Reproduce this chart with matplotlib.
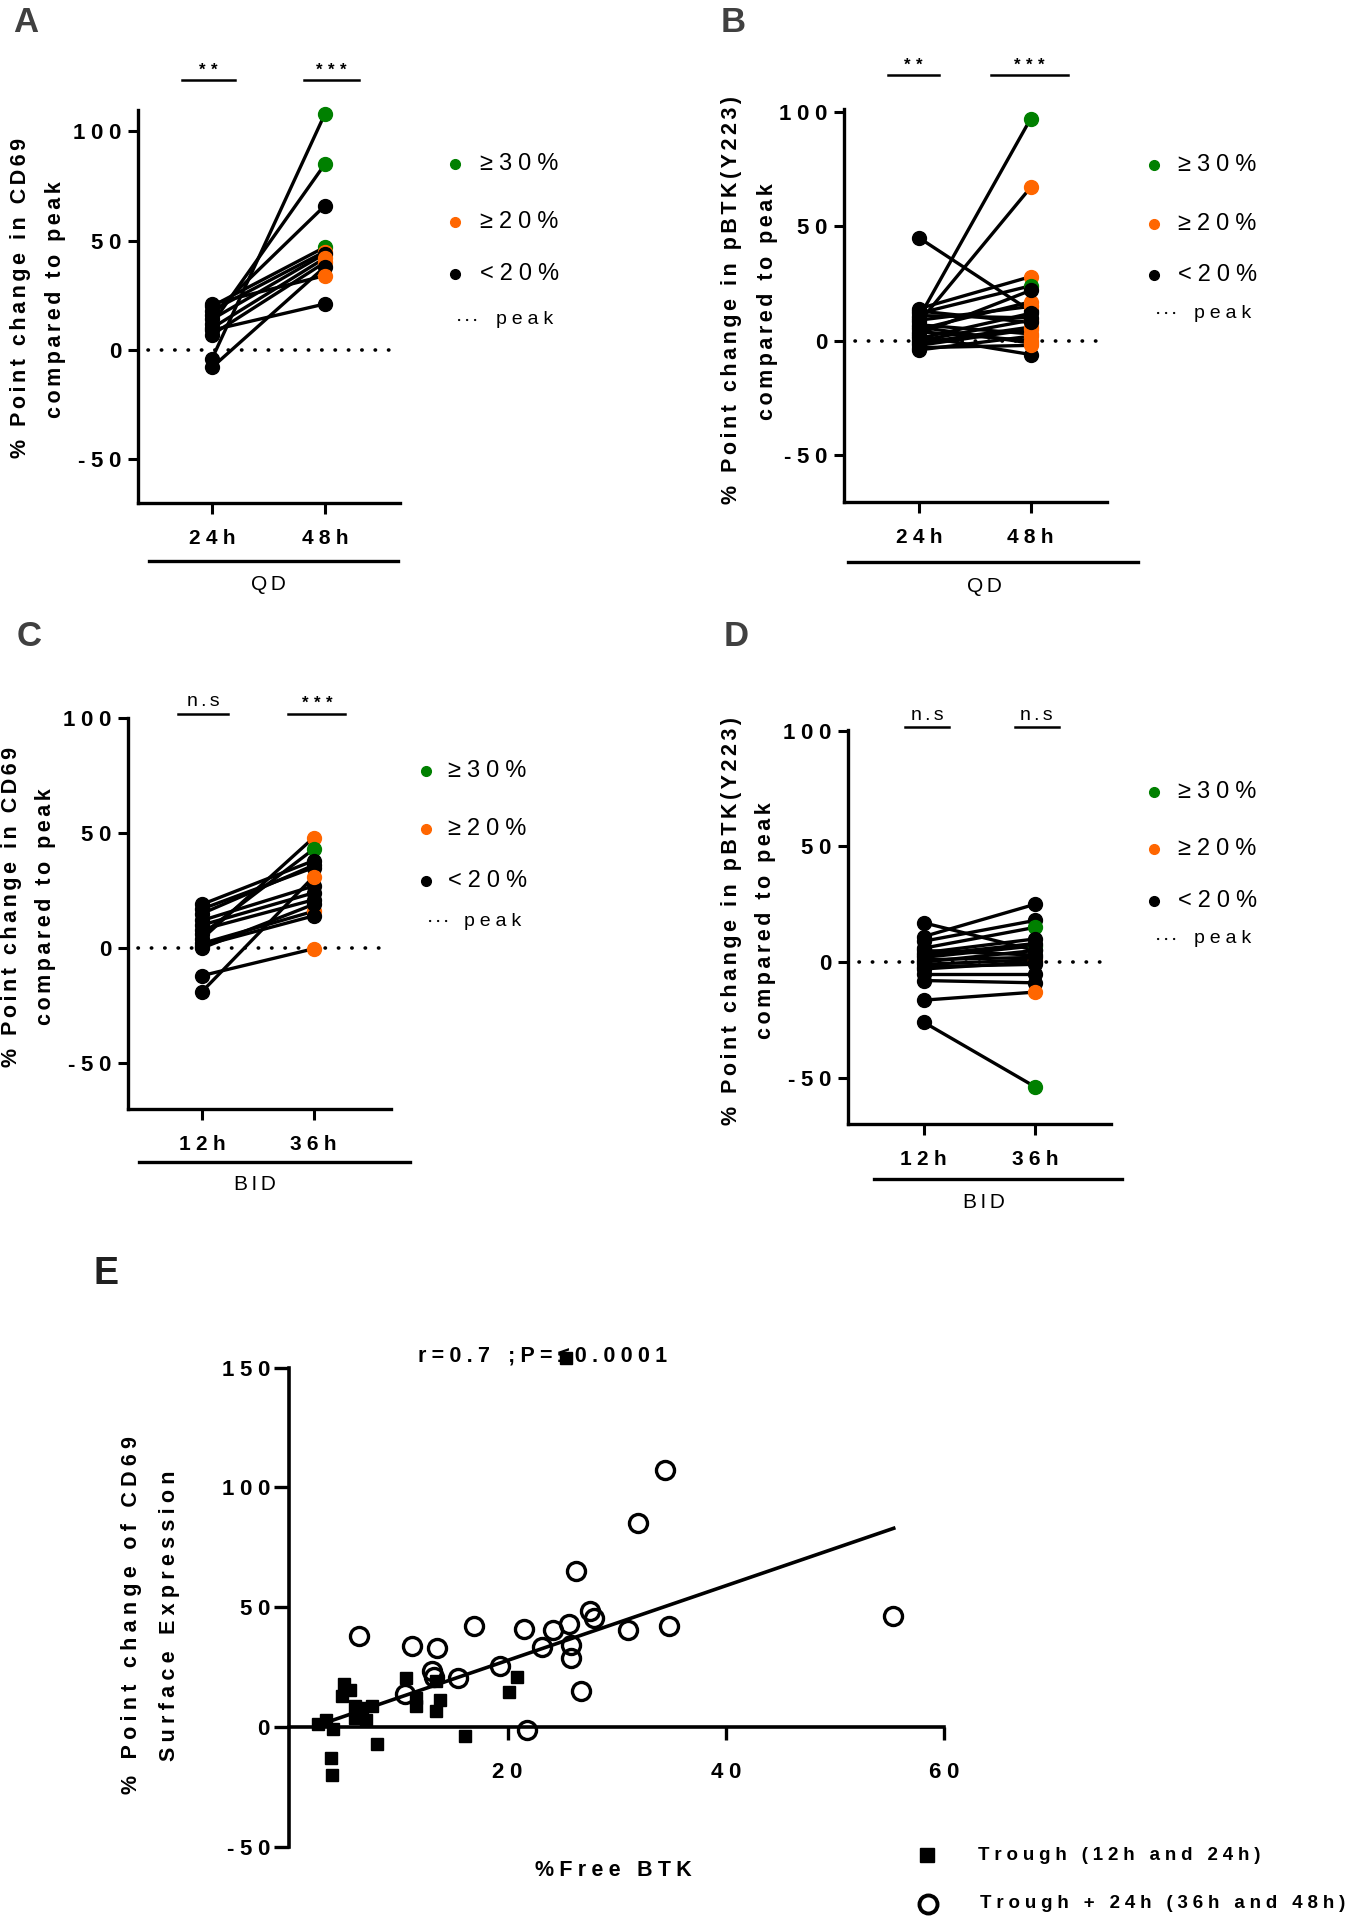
import numpy as np
import matplotlib
matplotlib.use('Agg')
import matplotlib.pyplot as plt
from matplotlib.lines import Line2D

plt.rcParams['font.family'] = ['Liberation Sans', 'DejaVu Sans']

W, H = 1352, 1920
GREEN = '#008000'
ORANGE = '#ff6600'
BLACK = '#000000'

# ---- panel A: CD69, QD (24h -> 48h)
a_24h = [-4, 12, 16, 20, 18, 14, 10, 7, -8, 21, 9]
a_48h = [108, 85, 66, 47, 45, 44, 42, 40, 38, 34, 21]
a_col = ['g', 'g', 'k', 'g', 'o', 'k', 'o', 'o', 'k', 'o', 'k']

# ---- panel B: pBTK, QD (24h -> 48h)
b_24h = [45, 10, 8, 14, 12, 5, 3, 0, -2, -4, 6, 2, 9, 1, -1, 11, 4, 7, -3, 13]
b_48h = [13, 97, 67, 28, 24, 17, 22, 9, 5, 2, -1, -6, 15, 12, 6, 10, 0, 3, -2, 8]
b_col = ['k', 'g', 'o', 'o', 'g', 'o', 'k', 'o', 'o', 'o', 'o', 'k', 'o', 'k', 'o', 'k', 'o', 'o', 'o', 'k']

# ---- panel C: CD69, BID (12h -> 36h)
c_12h = [4, 6, 19, 17, 15, 12, 10, 8, 2, 1, 0, -12, -19]
c_36h = [48, 43, 38, 35, 36, 27, 24, 21, 16, 14, 19, -0.3, 31]
c_col = ['o', 'g', 'k', 'k', 'k', 'k', 'k', 'k', 'o', 'k', 'k', 'o', 'o']

# ---- panel D: pBTK, BID (12h -> 36h)
d_12h = [17, 11, 9, 6, 4, 2, 0, -1, -3, -5, -8, -16.5, -26, 3, 1, 5, -2]
d_36h = [5, 25, 18, 15, 10, 7, 5, 1, 0, -5, -9, -13, -54, 8, 2, 3, -1]
d_col = ['k', 'k', 'k', 'g', 'k', 'g', 'k', 'o', 'k', 'k', 'k', 'o', 'g', 'k', 'k', 'k', 'k']

# ---- panel E: %free BTK vs CD69 change
trough_x = [2.6, 3.4, 4.0, 5.0, 5.6, 4.8, 6.0, 6.7, 6.0, 7.0, 7.6, 8.0, 3.8, 3.9,
            10.7, 11.6, 11.6, 13.4, 13.8, 13.4, 16.1, 20.1, 20.9, 25.4]
trough_y = [1.6, 3.2, -0.5, 18.3, 15.8, 13, 8.8, 8.1, 4, 3.2, 9.1, -6.8, -12.7, -20,
            20.6, 12.3, 8.8, 19.2, 11.3, 6.7, -3.4, 14.6, 21, 154]
plus24_x = [34.4, 32.0, 26.3, 55.3, 27.6, 27.9, 34.8, 31.0, 25.6, 24.2, 21.5, 16.9, 6.4,
            11.2, 13.5, 23.2, 25.8, 25.8, 19.3, 13.1, 13.3, 15.5, 10.6, 26.7, 21.8]
plus24_y = [107.4, 85, 65.2, 46.5, 48.6, 45.6, 42.4, 40.6, 42.9, 40.6, 41.2, 42.4, 38.3,
            33.8, 33.1, 33.5, 34.4, 29, 25.5, 23.7, 21, 20.5, 13.9, 15.1, -0.9]
fit_x = [3.2, 55.4]
fit_y = [1.8, 83.0]

legend_labels = ['\u226530%', '\u226520%', '<20%']
colors = {'g': GREEN, 'o': ORANGE, 'k': BLACK}


def sp(s, n=2):
    return ('\u200a' * n).join(s)


fig = plt.figure(figsize=(W / 100, H / 100), dpi=100)


def px_axes(x0, y0, x1, y1):
    return fig.add_axes([x0 / W, 1 - y1 / H, (x1 - x0) / W, (y1 - y0) / H])


def ftext(x, y, s, **kw):
    return fig.text(x / W, 1 - y / H, s, **kw)


def fline(xs, ys, **kw):
    fig.add_artist(Line2D([x / W for x in xs], [1 - y / H for y in ys],
                          transform=fig.transFigure, **kw))


def paired(box, xlim, ylim, before, after, cols, cats, ylab, group, sig, sig_c, sig_w, sig_y,
           leg, grp_line, grp_y, letter, letter_xy, lab_xy):
    ax = px_axes(*box)
    ax.set_xlim(*xlim)
    ax.set_ylim(*ylim)
    for s in ['top', 'right']:
        ax.spines[s].set_visible(False)
    for s in ['left', 'bottom']:
        ax.spines[s].set_linewidth(2.4)
    ax.axhline(0, xmin=0.04, xmax=1, color='k', lw=2.6, ls=(0, (0.1, 3.6)),
               dash_capstyle='round', zorder=1)
    for b, a in zip(before, after):
        ax.plot([0, 1], [b, a], color='k', lw=2.4, zorder=2, clip_on=False)
    ax.plot([0] * len(before), before, 'o', ms=10, color='k', zorder=3, clip_on=False)
    for a, c in zip(after, cols):
        ax.plot([1], [a], 'o', ms=10, color=colors[c], zorder=3, clip_on=False)
    ax.set_yticks([-50, 0, 50, 100])
    ax.set_yticklabels([sp(str(v), 3) for v in [-50, 0, 50, 100]], fontweight='bold')
    ax.set_xticks([0, 1])
    ax.set_xticklabels([sp(c, 3) for c in cats], fontweight='bold')
    ax.tick_params(axis='y', length=7, width=2.2, pad=5, labelsize=16)
    ax.tick_params(axis='x', length=8, width=2.2, pad=11, labelsize=15)
    for i, (s, c, w) in enumerate(zip(sig, sig_c, sig_w)):
        ax.plot([i + c - w / 2, i + c + w / 2], [sig_y, sig_y], color='k', lw=1.8, clip_on=False)
        if s.startswith('*'):
            ax.text(i + c, sig_y + 1, sp(s, 4), ha='center', va='bottom', fontsize=12,
                    fontweight='bold')
        else:
            ax.text(i + c, sig_y + 1.5, sp(s, 2), ha='center', va='bottom', fontsize=14)
    # legend
    mx, rows, tx = leg
    for y, c, lab in zip(rows[:3], ['g', 'o', 'k'], legend_labels):
        fline([mx], [y], marker='o', ms=7, color=colors[c], ls='none')
        ftext(tx, y, sp(lab, 3), ha='left', va='center', fontsize=17)
    fline([mx + 4, mx + 24], [rows[3], rows[3]], color='k', lw=1.6, ls=(0, (0.1, 3.5)),
          dash_capstyle='round')
    ftext(tx + 16, rows[3], sp('peak', 3), ha='left', va='center', fontsize=14)
    # group bar
    fline(grp_line[:2], [grp_line[2]] * 2, color='k', lw=2.4)
    ftext(grp_y[0], grp_y[1], sp(group, 2), ha='center', va='center', fontsize=15)
    ftext(letter_xy[0], letter_xy[1], letter, ha='left', va='top', fontsize=25,
          fontweight='bold', color='#404040')
    (x1, y1), (x2, y2) = lab_xy
    ftext(x1, y1, sp(ylab[0]), rotation=90, ha='center', va='center', fontsize=15.5,
          fontweight='bold')
    ftext(x2, y2, sp(ylab[1]), rotation=90, ha='center', va='center', fontsize=15.5,
          fontweight='bold')
    return ax


paired((137.7, 109.6, 400.4, 502.7), (-0.66, 1.67), (-70, 110), a_24h, a_48h, a_col,
       ['24h', '48h'], ['% Point change in CD69', 'compared to peak'], 'QD',
       ['**', '***'], [-0.036, 0.06], [0.47, 0.49], 123.5,
       (455, [164, 222, 274, 320], 480), (148.5, 398, 561), (268, 585), 'A', (13, 6),
       ((20.8, 298), (55, 300)))

paired((844, 108.8, 1106.7, 502), (-0.67, 1.68), (-70.4, 101.3), b_24h, b_48h, b_col,
       ['24h', '48h'], ['% Point change in pBTK(Y223)', 'compared to peak'], 'QD',
       ['**', '***'], [-0.05, -0.013], [0.46, 0.69], 116,
       (1154, [165, 224, 275, 313], 1178), (848, 1138, 561.5), (984, 586), 'B', (721, 6),
       ((732, 300), (767, 302)))

paired((127.7, 717.5, 390.5, 1109), (-0.665, 1.69), (-70, 100.3), c_12h, c_36h, c_col,
       ['12h', '36h'], ['% Point change in CD69', 'compared to peak'], 'BID',
       ['n.s', '***'], [0.01, 0.03], [0.45, 0.51], 102,
       (425.5, [771, 829, 881, 921], 448), (138.5, 410, 1161.5), (255, 1185), 'C', (17, 620),
       ((12, 907), (45.5, 907)))

paired((848.3, 730, 1111, 1123.8), (-0.674, 1.68), (-70, 100.4), d_12h, d_36h, d_col,
       ['12h', '36h'], ['% Point change in pBTK(Y223)', 'compared to peak'], 'BID',
       ['n.s', 'n.s'], [0.03, 0.015], [0.39, 0.39], 101.7,
       (1154, [792, 849, 901, 938.5], 1178), (874, 1122, 1178.6), (984, 1203), 'D',
       (723.6, 620), ((731, 921), (765, 921)))

# ---- panel E
ax = px_axes(289.4, 1367.5, 943.9, 1847.4)
ax.set_xlim(0, 60)
ax.set_ylim(-50, 150)
for s in ['top', 'right']:
    ax.spines[s].set_visible(False)
ax.spines['bottom'].set_position(('data', 0))
for s in ['left', 'bottom']:
    ax.spines[s].set_linewidth(2.6)
ax.plot(fit_x, fit_y, color='k', lw=2.6, zorder=2)
ax.plot(trough_x, trough_y, 's', ms=9, color='k', zorder=3, clip_on=False)
ax.plot(plus24_x, plus24_y, 'o', ms=13, mfc='none', mec='k', mew=2.4, zorder=4, clip_on=False)
ax.set_xticks([20, 40, 60])
ax.set_xticklabels([sp(str(v), 3) for v in [20, 40, 60]], fontweight='bold')
ax.set_yticks([-50, 0, 50, 100, 150])
ax.set_yticklabels([sp(str(v), 3) for v in [-50, 0, 50, 100, 150]], fontweight='bold')
ax.tick_params(axis='x', length=9, width=2.4, pad=16, labelsize=16)
ax.tick_params(axis='y', length=11, width=2.4, pad=3, labelsize=16)

ftext(94, 1256, 'E', ha='left', va='top', fontsize=27, fontweight='bold', color='#202020')
ftext(418, 1356, sp('r=0.7', 3) + '   ' + sp(';P=\u22640.0001', 3), ha='left', va='center',
      fontsize=15.5, fontweight='bold')
ftext(613.8, 1870, sp('%Free BTK', 3), ha='center', va='center', fontsize=15.5,
      fontweight='bold')
ftext(131.6, 1615, sp('% Point change of CD69', 3), rotation=90, ha='center', va='center',
      fontsize=15.5, fontweight='bold')
ftext(170, 1616, sp('Surface Expression', 3), rotation=90, ha='center', va='center',
      fontsize=15.5, fontweight='bold')

fline([927], [1855], marker='s', ms=10, color='k', ls='none')
fline([928], [1904], marker='o', ms=13, mfc='none', mec='k', mew=2.8, ls='none')
ftext(978, 1855, sp('Trough (12h and 24h)', 3), ha='left', va='center', fontsize=13.5,
      fontweight='bold')
ftext(980, 1904, sp('Trough + 24h (36h and 48h)', 3), ha='left', va='center', fontsize=13.5,
      fontweight='bold')

fig.savefig('out.png', dpi=100)
